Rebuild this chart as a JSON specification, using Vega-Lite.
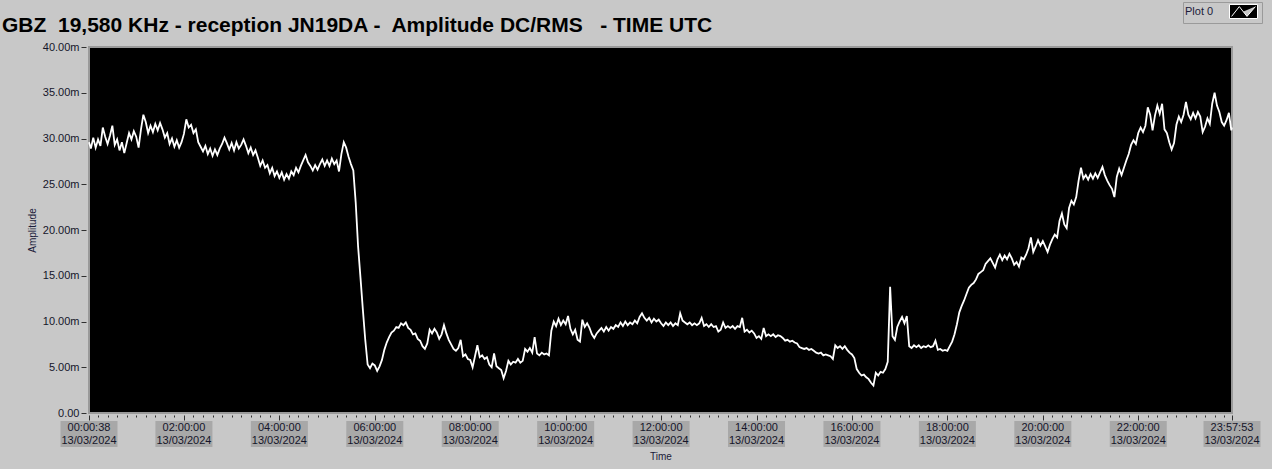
{
  "$schema": "https://vega.github.io/schema/vega-lite/v6.json",
  "autosize": "none",
  "width": 1143,
  "height": 366,
  "padding": {"left": 89, "top": 47, "right": 40, "bottom": 56},
  "background": "#C8C8C8",
  "title": {
    "text": "GBZ\u00a0 19,580 KHz - reception JN19DA -\u00a0 Amplitude DC/RMS\u00a0\u00a0 - TIME UTC",
    "anchor": "start", "frame": "group", "dx": -87, "offset": -51, "baseline": "alphabetic",
    "font": "Liberation Sans", "fontSize": 21, "fontWeight": "bold", "color": "#000000"
  },
  "config": {
    "view": {"fill": "#000000", "stroke": "#9A9A9A", "strokeWidth": 2},
    "text": {"font": "Liberation Sans"}
  },
  "datasets": {
    "amp": [
{"t":38,"v":29.6},{"t":180,"v":28.9},{"t":360,"v":30.1},{"t":540,"v":29.0},{"t":720,"v":29.9},{"t":900,"v":29.2},{"t":1080,"v":31.2},{"t":1260,"v":30.2},{"t":1440,"v":29.4},{"t":1620,"v":30.3},{"t":1800,"v":31.4},{"t":1980,"v":29.3},{"t":2160,"v":29.9},{"t":2340,"v":28.7},{"t":2520,"v":29.6},{"t":2700,"v":28.4},{"t":2880,"v":29.5},{"t":3060,"v":30.6},{"t":3240,"v":29.9},{"t":3420,"v":30.8},
{"t":3600,"v":30.2},{"t":3780,"v":29.0},{"t":3960,"v":31.0},{"t":4140,"v":32.6},{"t":4320,"v":31.8},{"t":4500,"v":30.6},{"t":4680,"v":31.4},{"t":4860,"v":30.7},{"t":5040,"v":31.6},{"t":5220,"v":30.9},{"t":5400,"v":31.7},{"t":5580,"v":31.0},{"t":5760,"v":30.1},{"t":5940,"v":30.6},{"t":6120,"v":29.4},{"t":6300,"v":30.0},{"t":6480,"v":29.1},{"t":6660,"v":29.8},{"t":6840,"v":29.0},{"t":7020,"v":29.6},
{"t":7200,"v":30.5},{"t":7380,"v":32.1},{"t":7560,"v":31.2},{"t":7740,"v":31.5},{"t":7920,"v":30.6},{"t":8100,"v":31.0},{"t":8280,"v":29.6},{"t":8460,"v":29.1},{"t":8640,"v":28.6},{"t":8820,"v":29.2},{"t":9000,"v":28.3},{"t":9180,"v":28.9},{"t":9360,"v":28.1},{"t":9540,"v":28.8},{"t":9720,"v":28.2},{"t":9900,"v":28.9},{"t":10080,"v":29.4},{"t":10260,"v":30.1},{"t":10440,"v":29.5},{"t":10620,"v":28.8},
{"t":10800,"v":29.5},{"t":10980,"v":28.7},{"t":11160,"v":29.6},{"t":11340,"v":28.9},{"t":11520,"v":29.3},{"t":11700,"v":29.9},{"t":11880,"v":29.2},{"t":12060,"v":28.4},{"t":12240,"v":29.0},{"t":12420,"v":28.2},{"t":12600,"v":28.7},{"t":12780,"v":27.9},{"t":12960,"v":27.0},{"t":13140,"v":27.6},{"t":13320,"v":26.8},{"t":13500,"v":27.1},{"t":13680,"v":26.2},{"t":13860,"v":26.8},{"t":14040,"v":25.9},{"t":14220,"v":26.4},
{"t":14400,"v":25.7},{"t":14580,"v":26.3},{"t":14760,"v":25.5},{"t":14940,"v":26.1},{"t":15120,"v":25.6},{"t":15300,"v":26.4},{"t":15480,"v":26.0},{"t":15660,"v":26.8},{"t":15840,"v":26.3},{"t":16020,"v":27.0},{"t":16200,"v":27.6},{"t":16380,"v":28.2},{"t":16560,"v":27.4},{"t":16740,"v":27.0},{"t":16920,"v":26.5},{"t":17100,"v":27.1},{"t":17280,"v":26.6},{"t":17460,"v":27.2},{"t":17640,"v":27.7},{"t":17820,"v":27.0},
{"t":18000,"v":27.6},{"t":18180,"v":27.0},{"t":18360,"v":27.8},{"t":18540,"v":27.2},{"t":18720,"v":27.6},{"t":18900,"v":26.4},{"t":19080,"v":28.3},{"t":19260,"v":29.6},{"t":19440,"v":29.0},{"t":19620,"v":28.0},{"t":19800,"v":27.2},{"t":19980,"v":26.5},{"t":20160,"v":23.0},{"t":20340,"v":18.2},{"t":20520,"v":14.8},{"t":20700,"v":11.3},{"t":20880,"v":8.0},{"t":21060,"v":5.3},{"t":21240,"v":4.9},{"t":21420,"v":5.4},
{"t":21600,"v":5.2},{"t":21780,"v":4.6},{"t":21960,"v":5.1},{"t":22140,"v":5.8},{"t":22320,"v":6.9},{"t":22500,"v":7.7},{"t":22680,"v":8.3},{"t":22860,"v":8.8},{"t":23040,"v":9.0},{"t":23220,"v":9.4},{"t":23400,"v":9.3},{"t":23580,"v":9.8},{"t":23760,"v":9.6},{"t":23940,"v":9.9},{"t":24120,"v":9.3},{"t":24300,"v":9.1},{"t":24480,"v":8.6},{"t":24660,"v":8.7},{"t":24840,"v":8.1},{"t":25020,"v":7.9},
{"t":25200,"v":7.3},{"t":25380,"v":7.0},{"t":25560,"v":7.6},{"t":25740,"v":9.1},{"t":25920,"v":8.7},{"t":26100,"v":9.2},{"t":26280,"v":8.8},{"t":26460,"v":8.1},{"t":26640,"v":8.6},{"t":26820,"v":9.6},{"t":27000,"v":8.7},{"t":27180,"v":8.0},{"t":27360,"v":7.5},{"t":27540,"v":7.0},{"t":27720,"v":6.8},{"t":27900,"v":7.1},{"t":28080,"v":8.0},{"t":28260,"v":6.2},{"t":28440,"v":6.4},{"t":28620,"v":5.9},
{"t":28800,"v":5.8},{"t":28980,"v":5.0},{"t":29160,"v":6.2},{"t":29340,"v":7.4},{"t":29520,"v":6.1},{"t":29700,"v":6.3},{"t":29880,"v":5.9},{"t":30060,"v":6.1},{"t":30240,"v":5.3},{"t":30420,"v":5.0},{"t":30600,"v":6.5},{"t":30780,"v":5.1},{"t":30960,"v":4.9},{"t":31140,"v":4.7},{"t":31320,"v":3.8},{"t":31500,"v":4.6},{"t":31680,"v":5.7},{"t":31860,"v":5.3},{"t":32040,"v":5.6},{"t":32220,"v":5.5},
{"t":32400,"v":5.9},{"t":32580,"v":5.5},{"t":32760,"v":5.7},{"t":32940,"v":7.0},{"t":33120,"v":6.7},{"t":33300,"v":7.1},{"t":33480,"v":6.6},{"t":33660,"v":8.3},{"t":33840,"v":6.5},{"t":34020,"v":6.3},{"t":34200,"v":6.6},{"t":34380,"v":6.4},{"t":34560,"v":6.5},{"t":34740,"v":6.3},{"t":34920,"v":9.0},{"t":35100,"v":10.0},{"t":35280,"v":9.5},{"t":35460,"v":10.3},{"t":35640,"v":9.6},{"t":35820,"v":10.1},
{"t":36000,"v":9.7},{"t":36180,"v":10.6},{"t":36360,"v":9.2},{"t":36540,"v":8.6},{"t":36720,"v":9.1},{"t":36900,"v":8.0},{"t":37080,"v":7.8},{"t":37260,"v":10.2},{"t":37440,"v":9.4},{"t":37620,"v":9.8},{"t":37800,"v":9.3},{"t":37980,"v":8.6},{"t":38160,"v":8.2},{"t":38340,"v":8.7},{"t":38520,"v":9.0},{"t":38700,"v":9.3},{"t":38880,"v":8.9},{"t":39060,"v":9.4},{"t":39240,"v":9.0},{"t":39420,"v":9.4},
{"t":39600,"v":9.2},{"t":39780,"v":9.6},{"t":39960,"v":9.4},{"t":40140,"v":9.9},{"t":40320,"v":9.5},{"t":40500,"v":10.0},{"t":40680,"v":9.6},{"t":40860,"v":9.9},{"t":41040,"v":9.7},{"t":41220,"v":10.1},{"t":41400,"v":9.8},{"t":41580,"v":10.5},{"t":41760,"v":10.9},{"t":41940,"v":10.4},{"t":42120,"v":10.1},{"t":42300,"v":10.4},{"t":42480,"v":9.9},{"t":42660,"v":10.3},{"t":42840,"v":10.0},{"t":43020,"v":10.2},
{"t":43200,"v":9.8},{"t":43380,"v":9.5},{"t":43560,"v":9.9},{"t":43740,"v":9.6},{"t":43920,"v":9.9},{"t":44100,"v":9.5},{"t":44280,"v":9.8},{"t":44460,"v":9.6},{"t":44640,"v":10.9},{"t":44820,"v":10.1},{"t":45000,"v":9.9},{"t":45180,"v":9.7},{"t":45360,"v":9.9},{"t":45540,"v":9.6},{"t":45720,"v":9.8},{"t":45900,"v":9.6},{"t":46080,"v":9.8},{"t":46260,"v":10.4},{"t":46440,"v":9.5},{"t":46620,"v":9.7},
{"t":46800,"v":9.4},{"t":46980,"v":9.7},{"t":47160,"v":9.4},{"t":47340,"v":9.5},{"t":47520,"v":8.9},{"t":47700,"v":9.1},{"t":47880,"v":9.9},{"t":48060,"v":9.3},{"t":48240,"v":9.5},{"t":48420,"v":9.3},{"t":48600,"v":9.5},{"t":48780,"v":9.2},{"t":48960,"v":9.5},{"t":49140,"v":9.4},{"t":49320,"v":10.4},{"t":49500,"v":8.9},{"t":49680,"v":9.1},{"t":49860,"v":8.8},{"t":50040,"v":9.0},{"t":50220,"v":8.7},
{"t":50400,"v":8.2},{"t":50580,"v":8.4},{"t":50760,"v":8.1},{"t":50940,"v":9.3},{"t":51120,"v":8.4},{"t":51300,"v":8.6},{"t":51480,"v":8.4},{"t":51660,"v":8.6},{"t":51840,"v":8.3},{"t":52020,"v":8.5},{"t":52200,"v":8.4},{"t":52380,"v":8.2},{"t":52560,"v":7.9},{"t":52740,"v":8.0},{"t":52920,"v":7.8},{"t":53100,"v":7.9},{"t":53280,"v":7.7},{"t":53460,"v":7.6},{"t":53640,"v":7.2},{"t":53820,"v":7.1},
{"t":54000,"v":7.0},{"t":54180,"v":7.1},{"t":54360,"v":6.9},{"t":54540,"v":7.0},{"t":54720,"v":6.8},{"t":54900,"v":6.6},{"t":55080,"v":6.5},{"t":55260,"v":6.6},{"t":55440,"v":6.3},{"t":55620,"v":6.4},{"t":55800,"v":6.3},{"t":55980,"v":6.2},{"t":56160,"v":5.9},{"t":56340,"v":7.4},{"t":56520,"v":7.1},{"t":56700,"v":7.3},{"t":56880,"v":7.0},{"t":57060,"v":7.3},{"t":57240,"v":6.9},{"t":57420,"v":6.6},
{"t":57600,"v":6.4},{"t":57780,"v":6.0},{"t":57960,"v":4.8},{"t":58140,"v":4.4},{"t":58320,"v":4.1},{"t":58500,"v":4.2},{"t":58680,"v":3.9},{"t":58860,"v":3.7},{"t":59040,"v":3.3},{"t":59220,"v":3.0},{"t":59400,"v":4.4},{"t":59580,"v":4.1},{"t":59760,"v":4.5},{"t":59940,"v":4.4},{"t":60120,"v":4.8},{"t":60300,"v":5.6},{"t":60480,"v":13.8},{"t":60660,"v":8.4},{"t":60840,"v":8.0},{"t":61020,"v":9.4},
{"t":61200,"v":10.0},{"t":61380,"v":10.5},{"t":61560,"v":9.8},{"t":61740,"v":10.6},{"t":61920,"v":7.3},{"t":62100,"v":7.1},{"t":62280,"v":7.4},{"t":62460,"v":7.2},{"t":62640,"v":7.4},{"t":62820,"v":7.1},{"t":63000,"v":7.3},{"t":63180,"v":7.2},{"t":63360,"v":7.4},{"t":63540,"v":7.2},{"t":63720,"v":7.3},{"t":63900,"v":7.9},{"t":64080,"v":6.9},{"t":64260,"v":7.0},{"t":64440,"v":6.8},{"t":64620,"v":6.9},
{"t":64800,"v":6.8},{"t":64980,"v":7.3},{"t":65160,"v":7.8},{"t":65340,"v":8.6},{"t":65520,"v":9.7},{"t":65700,"v":11.0},{"t":65880,"v":11.7},{"t":66060,"v":12.3},{"t":66240,"v":13.0},{"t":66420,"v":13.7},{"t":66600,"v":14.0},{"t":66780,"v":14.2},{"t":66960,"v":14.6},{"t":67140,"v":15.2},{"t":67320,"v":15.4},{"t":67500,"v":15.6},{"t":67680,"v":16.3},{"t":67860,"v":16.6},{"t":68040,"v":16.9},{"t":68220,"v":16.4},
{"t":68400,"v":15.9},{"t":68580,"v":16.8},{"t":68760,"v":17.3},{"t":68940,"v":16.7},{"t":69120,"v":17.2},{"t":69300,"v":16.8},{"t":69480,"v":17.4},{"t":69660,"v":16.9},{"t":69840,"v":16.2},{"t":70020,"v":16.5},{"t":70200,"v":16.0},{"t":70380,"v":17.0},{"t":70560,"v":16.8},{"t":70740,"v":17.3},{"t":70920,"v":18.0},{"t":71100,"v":19.2},{"t":71280,"v":17.6},{"t":71460,"v":18.2},{"t":71640,"v":18.9},{"t":71820,"v":18.3},
{"t":72000,"v":18.8},{"t":72180,"v":18.2},{"t":72360,"v":17.6},{"t":72540,"v":18.4},{"t":72720,"v":19.0},{"t":72900,"v":19.5},{"t":73080,"v":19.2},{"t":73260,"v":21.0},{"t":73440,"v":21.8},{"t":73620,"v":20.6},{"t":73800,"v":20.2},{"t":73980,"v":22.4},{"t":74160,"v":23.2},{"t":74340,"v":22.8},{"t":74520,"v":23.6},{"t":74700,"v":25.4},{"t":74880,"v":26.8},{"t":75060,"v":25.6},{"t":75240,"v":26.0},{"t":75420,"v":25.5},
{"t":75600,"v":26.1},{"t":75780,"v":25.6},{"t":75960,"v":26.2},{"t":76140,"v":25.7},{"t":76320,"v":26.3},{"t":76500,"v":26.9},{"t":76680,"v":26.0},{"t":76860,"v":25.4},{"t":77040,"v":24.9},{"t":77220,"v":24.5},{"t":77400,"v":23.6},{"t":77580,"v":25.8},{"t":77760,"v":26.7},{"t":77940,"v":26.0},{"t":78120,"v":26.8},{"t":78300,"v":27.6},{"t":78480,"v":28.3},{"t":78660,"v":29.3},{"t":78840,"v":29.8},{"t":79020,"v":29.4},
{"t":79200,"v":30.6},{"t":79380,"v":31.2},{"t":79560,"v":30.7},{"t":79740,"v":31.4},{"t":79920,"v":33.4},{"t":80100,"v":32.6},{"t":80280,"v":30.9},{"t":80460,"v":32.5},{"t":80640,"v":33.6},{"t":80820,"v":32.7},{"t":81000,"v":33.8},{"t":81180,"v":31.0},{"t":81360,"v":30.6},{"t":81540,"v":29.6},{"t":81720,"v":28.8},{"t":81900,"v":29.5},{"t":82080,"v":31.5},{"t":82260,"v":32.4},{"t":82440,"v":31.8},{"t":82620,"v":32.6},
{"t":82800,"v":34.0},{"t":82980,"v":32.6},{"t":83160,"v":32.1},{"t":83340,"v":32.8},{"t":83520,"v":32.2},{"t":83700,"v":32.9},{"t":83880,"v":32.4},{"t":84060,"v":30.7},{"t":84240,"v":31.3},{"t":84420,"v":32.2},{"t":84600,"v":31.6},{"t":84780,"v":33.8},{"t":84960,"v":35.0},{"t":85140,"v":33.6},{"t":85320,"v":32.9},{"t":85500,"v":31.8},{"t":85680,"v":31.4},{"t":85860,"v":32.0},{"t":86040,"v":32.8},{"t":86220,"v":30.9},{"t":86273,"v":31.2}
    ],
    "ticks": [
      {"t": 38, "label": "00:00:38\n13/03/2024"},
      {"t": 7200, "label": "02:00:00\n13/03/2024"},
      {"t": 14400, "label": "04:00:00\n13/03/2024"},
      {"t": 21600, "label": "06:00:00\n13/03/2024"},
      {"t": 28800, "label": "08:00:00\n13/03/2024"},
      {"t": 36000, "label": "10:00:00\n13/03/2024"},
      {"t": 43200, "label": "12:00:00\n13/03/2024"},
      {"t": 50400, "label": "14:00:00\n13/03/2024"},
      {"t": 57600, "label": "16:00:00\n13/03/2024"},
      {"t": 64800, "label": "18:00:00\n13/03/2024"},
      {"t": 72000, "label": "20:00:00\n13/03/2024"},
      {"t": 79200, "label": "22:00:00\n13/03/2024"},
      {"t": 86273, "label": "23:57:53\n13/03/2024"}
    ]
  },
  "data": {"name": "amp"},
  "encoding": {
    "x": {
      "field": "t", "type": "quantitative",
      "scale": {"domain": [38, 86273], "nice": false, "zero": false},
      "axis": {
        "values": [38,720,1440,2160,2880,3600,4320,5040,5760,6480,7200,7920,8640,9360,10080,10800,11520,12240,12960,13680,14400,15120,15840,16560,17280,18000,18720,19440,20160,20880,21600,22320,23040,23760,24480,25200,25920,26640,27360,28080,28800,29520,30240,30960,31680,32400,33120,33840,34560,35280,36000,36720,37440,38160,38880,39600,40320,41040,41760,42480,43200,43920,44640,45360,46080,46800,47520,48240,48960,49680,50400,51120,51840,52560,53280,54000,54720,55440,56160,56880,57600,58320,59040,59760,60480,61200,61920,62640,63360,64080,64800,65520,66240,66960,67680,68400,69120,69840,70560,71280,72000,72720,73440,74160,74880,75600,76320,77040,77760,78480,79200,79920,80640,81360,82080,82800,83520,84240,84960,85680,86273],
        "labels": false, "domain": false, "grid": false,
        "tickSize": {"condition": {"test": "datum.value % 7200 === 0 || datum.value === 38 || datum.value === 86273", "value": 5}, "value": 2},
        "tickColor": "#303030", "tickWidth": 1, "offset": 2,
        "title": "Time", "titleFont": "Liberation Sans", "titleFontSize": 10, "titleFontWeight": "normal",
        "titleColor": "#1b1b3a", "titlePadding": 31
      }
    }
  },
  "layer": [
    {
      "mark": {"type": "line", "strokeWidth": 1.8, "interpolate": "linear"},
      "encoding": {
        "y": {
          "field": "v", "type": "quantitative",
          "scale": {"domain": [0, 40], "nice": false, "zero": true},
          "axis": {
            "values": [0,2.5,5,7.5,10,12.5,15,17.5,20,22.5,25,27.5,30,32.5,35,37.5,40],
            "labelExpr": "datum.value === 0 ? '0.00' : format(datum.value, '.2f') + 'm'",
            "domain": false, "grid": false, "tickSize": 5, "offset": 3, "labelPadding": 2,
            "tickColor": "#303030", "labelOverlap": false,
            "labelFont": "Liberation Sans", "labelFontSize": 11, "labelColor": "#15152a",
            "title": "Amplitude", "titleFont": "Liberation Sans", "titleFontSize": 10, "titleFontWeight": "normal",
            "titleColor": "#1b1b3a", "titlePadding": 5
          }
        },
        "color": {
          "datum": "Plot 0",
          "scale": {"domain": ["Plot 0"], "range": ["#FFFFFF"]},
          "legend": {
            "orient": "none", "legendX": 1094, "legendY": -45,
            "title": "Plot 0", "titleOrient": "left", "titleFont": "Liberation Sans", "titleFontSize": 11,
            "titleFontWeight": "normal", "titleColor": "#1b1b3a", "titlePadding": 22,
            "labelExpr": "''", "labelOffset": 6,
            "symbolType": "M-2,-1L2,-1L2,1L-2,1Z M-1.7,0.7L-0.6,-0.7L0.5,0.7L1.7,-0.7",
            "symbolSize": 196, "symbolStrokeWidth": 1,
            "fillColor": "#C8C8C8", "strokeColor": "#9A9A9A", "padding": 2,
            "encode": {
              "symbols": {
                "update": {
                  "fill": {"value": "#000000"}, "stroke": {"value": "#FFFFFF"},
                  "strokeWidth": {"value": 1}, "opacity": {"value": 1},
                  "shape": {"value": "M-2,-1L2,-1L2,1L-2,1Z M-1.7,0.7L-0.6,-0.7L0.5,0.7L1.7,-0.7"},
                  "size": {"value": 196}
                }
              }
            }
          }
        }
      }
    },
    {
      "data": {"name": "ticks"},
      "mark": {"type": "point", "shape": "M-1,-0.456L1,-0.456L1,0.456L-1,0.456Z", "filled": true, "fill": "#A8A8A8", "size": 3249, "opacity": 1, "strokeWidth": 0},
      "encoding": {
        "y": {"datum": -2.3, "type": "quantitative"}
      }
    },
    {
      "data": {"name": "ticks"},
      "mark": {"type": "text", "lineBreak": "\n", "font": "Liberation Sans", "fontSize": 11, "lineHeight": 13.5, "color": "#15152a", "align": "center", "baseline": "middle"},
      "encoding": {
        "y": {"datum": -1.6, "type": "quantitative"},
        "text": {"field": "label", "type": "nominal"}
      }
    }
  ]
}
